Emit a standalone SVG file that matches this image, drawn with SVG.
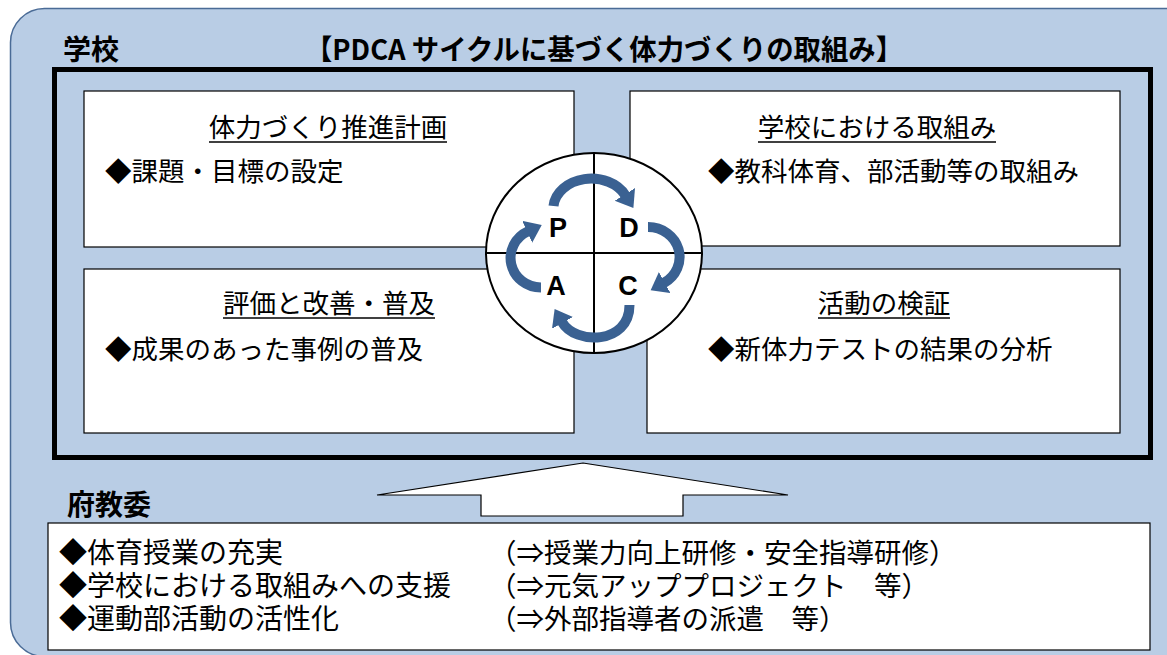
<svg xmlns="http://www.w3.org/2000/svg" width="1167" height="655" viewBox="0 0 1167 655">
<style>
.jp{font-family:"Noto Sans CJK JP","Noto Sans",sans-serif;fill:#000}
.hd{font-size:26.5px}
.bd{font-size:26.5px}
.bl{font-size:28px}
.br{font-size:27.5px}
.ttl{font-size:28px;font-weight:bold}
.box{fill:#fff;stroke:#000;stroke-width:1.2}
.ul{stroke:#000;stroke-width:1.5}
.cyc{fill:none;stroke:#3a6192;stroke-width:10;marker-end:url(#ah)}
.ltr{font-family:"Liberation Sans",Arial,sans-serif;font-weight:bold;font-size:27px;fill:#000}
</style>
<defs>
<marker id="ah" markerUnits="userSpaceOnUse" markerWidth="20" markerHeight="26" refX="1" refY="12" orient="auto">
<path d="M0,0 L16,12 L0,24 z" fill="#3a6192"/>
</marker>
</defs>
<rect x="10.5" y="8.5" width="1200" height="648" rx="34" fill="#b9cde5" stroke="#4a6b96" stroke-width="1.5"/>
<text class="jp ttl" x="63" y="60">学校</text>
<text class="jp ttl" x="305" y="60" textLength="598" lengthAdjust="spacingAndGlyphs">【PDCA サイクルに基づく体力づくりの取組み】</text>
<rect x="54.5" y="69.5" width="1096" height="388" fill="none" stroke="#000" stroke-width="5"/>
<g id="plan">
<rect class="box" x="84" y="91" width="490" height="156"/>
<text class="jp hd" x="328" y="137" text-anchor="middle">体力づくり推進計画</text>
<line class="ul" x1="209" y1="142" x2="447" y2="142"/>
<text class="jp bd" x="105" y="181">◆課題・目標の設定</text>
</g>
<g id="do">
<rect class="box" x="630" y="91" width="490" height="155"/>
<text class="jp hd" x="877" y="137" text-anchor="middle">学校における取組み</text>
<line class="ul" x1="758" y1="142" x2="996" y2="142"/>
<text class="jp bd" x="708" y="181">◆教科体育、部活動等の取組み</text>
</g>
<g id="act">
<rect class="box" x="84" y="269" width="490" height="164"/>
<text class="jp hd" x="329" y="313" text-anchor="middle">評価と改善・普及</text>
<line class="ul" x1="223" y1="318" x2="435" y2="318"/>
<text class="jp bd" x="105" y="359">◆成果のあった事例の普及</text>
</g>
<g id="check">
<rect class="box" x="647" y="269" width="473" height="164"/>
<text class="jp hd" x="884" y="313" text-anchor="middle">活動の検証</text>
<line class="ul" x1="818" y1="318" x2="950" y2="318"/>
<text class="jp bd" x="708" y="359">◆新体力テストの結果の分析</text>
</g>
<g id="cycle">
<ellipse cx="594" cy="253" rx="108" ry="100" fill="#fff" stroke="#000" stroke-width="2"/>
<line x1="594" y1="153" x2="594" y2="353" stroke="#000" stroke-width="2"/>
<line x1="486" y1="253" x2="702" y2="253" stroke="#000" stroke-width="2"/>
<text class="ltr" x="558" y="237" text-anchor="middle">P</text>
<text class="ltr" x="629" y="237" text-anchor="middle">D</text>
<text class="ltr" x="556" y="295" text-anchor="middle">A</text>
<text class="ltr" x="628" y="295" text-anchor="middle">C</text>
</g>
<g id="connectors">
<path class="cyc" d="M553.5,206 A38,30 0 0 1 625.4,195.3"/>
<path class="cyc" d="M648,227 A31.5,30 0 0 1 663.8,283"/>
<path class="cyc" d="M629.5,305 C629.5,345 575,345 562,322"/>
<path class="cyc" d="M541,287.5 A30.5,29.5 0 0 1 528.1,231.3"/>
</g>
<g id="support-arrow">
<path d="M583,463 L788,495 L683,495 L683,516 L481,516 L481,495 L377,495 Z" fill="#fff" stroke="#000" stroke-width="1.2"/>
</g>
<g id="prefecture">
<text class="jp ttl" x="67" y="515">府教委</text>
<rect class="box" x="48" y="523" width="1102" height="127"/>
<text class="jp bl" x="59" y="563">◆体育授業の充実</text>
<text class="jp bl" x="59" y="596">◆学校における取組みへの支援</text>
<text class="jp bl" x="59" y="629">◆運動部活動の活性化</text>
<text class="jp br" x="489" y="563">（⇒授業力向上研修・安全指導研修）</text>
<text class="jp br" x="489" y="596">（⇒元気アッププロジェクト　等）</text>
<text class="jp br" x="489" y="629">（⇒外部指導者の派遣　等）</text>
</g>
</svg>
